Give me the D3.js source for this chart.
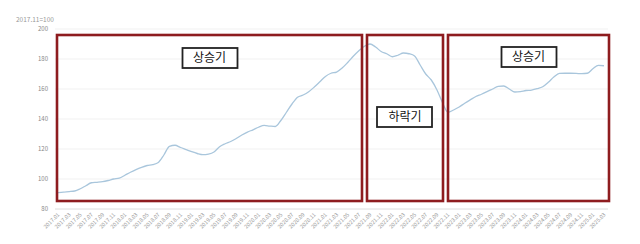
<!DOCTYPE html>
<html>
<head>
<meta charset="utf-8">
<script src="https://cdn.jsdelivr.net/npm/d3@7"></script>
<style>
	body { margin: 0; background: #fff; }
	svg { display: block; font-family: "Noto Sans CJK KR", "Noto Sans", sans-serif; }
</style>
</head>
<body>
<svg id="chart" width="640" height="244"></svg>
<script>
// monthly index, 2017.01 .. 2025.03 (2017.11 = 100)
let startYear = 2017;
let values = [
	90.9, 91.3, 91.6, 92, 93.5, 95.5, 97.5, 97.8, 98.2, 99, 100, 100.6,
	102.5, 104.5, 106.3, 107.8, 109, 109.6, 111, 116, 121.8, 122.5, 121, 119.6,
	118.2, 117, 116.2, 116.6, 118, 121.5, 123.5, 125, 127, 129.3, 131.3, 132.8,
	134.5, 135.7, 135.3, 135, 139, 144.5, 150, 154.5, 156, 158.2, 161.3, 164.8,
	168.4, 170.5, 171.3, 174, 177.7, 181.8, 185.5, 188.5, 190, 188, 185, 183.5,
	181.5, 182.5, 184, 183.5, 182, 176, 170, 166, 159.5, 151, 144.5, 146,
	148, 150.5, 152.8, 155, 156.5, 158.2, 160, 161.8, 162, 160, 158, 158.3,
	159, 159.3, 160.2, 161.5, 164.5, 168, 170.4, 170.5, 170.5, 170.4, 170.2, 170.5,
	173.5, 175.8, 175.5
];
let months = values.map((v, i) => {
	let y = startYear + Math.floor(i / 12);
	let m = (i % 12) + 1;
	return y + "." + (m < 10 ? "0" + m : m);
});
let yTicks = [80, 100, 120, 140, 160, 180, 200];
let unitLabel = "2017.11=100";

// phase labels, boxes drawn round these stretches
let phaseNames = ["상승기", "하락기", "상승기"];

let svg = d3.select("#chart");

let x = d3.scalePoint()
	.domain(months)
	.range([58, 604]);

let y = d3.scaleLinear()
	.domain([80, 200])
	.range([209, 29]);

// grid
svg.append("g")
	.selectAll("line")
	.data(yTicks)
	.enter()
	.append("line")
	.attr("x1", 55)
	.attr("x2", 608)
	.attr("y1", d => y(d))
	.attr("y2", d => y(d))
	.style("stroke", (d, i) => i == 0 ? "#dcdcdc" : "#f1f1f1")
	.style("stroke-width", 1);

// y labels
svg.append("g")
	.selectAll("text")
	.data(yTicks)
	.enter()
	.append("text")
	.attr("x", 48)
	.attr("y", d => y(d) + 2)
	.attr("text-anchor", "end")
	.attr("font-size", "6px")
	.attr("fill", "#888")
	.text(d => d);

svg.append("text")
	.attr("x", 16)
	.attr("y", 22)
	.attr("font-size", "6.5px")
	.attr("fill", "#999")
	.text(unitLabel);

// x labels every 2 months
let xLabels = months.filter((d, i) => i % 2 == 0);
svg.append("g")
	.selectAll("text")
	.data(xLabels)
	.enter()
	.append("text")
	.attr("text-anchor", "end")
	.attr("font-size", "5.5px")
	.attr("fill", "#999")
	.attr("transform", d => "translate(" + (x(d) + 2) + ",215) rotate(-45)")
	.text(d => d);

// line
let line = d3.line()
	.x((d, i) => x(months[i]))
	.y(d => y(d))
	.curve(d3.curveMonotoneX);

svg.append("path")
	.datum(values)
	.attr("d", line)
	.style("fill", "none")
	.style("stroke", "#a9c6dc")
	.style("stroke-width", 1.3);

// phase boxes
let boxX = [57, 367, 448];
let boxR = [362, 443, 609];
let phases = phaseNames.map((name, i) => ({
	name: name,
	x0: boxX[i],
	x1: boxR[i]
}));

svg.append("g")
	.selectAll("rect")
	.data(phases)
	.enter()
	.append("rect")
	.attr("x", d => d.x0)
	.attr("y", 35)
	.attr("width", d => d.x1 - d.x0)
	.attr("height", 166)
	.style("fill", "none")
	.style("stroke", "#8e1c1f")
	.style("stroke-width", 2.6);

let tagY = [48, 107, 47];
let tags = svg.append("g")
	.selectAll("g")
	.data(phases)
	.enter()
	.append("g")
	.attr("transform", (d, i) => "translate(" + ((d.x0 + d.x1) / 2) + "," + tagY[i] + ")");

tags.append("rect")
	.attr("x", (d, i) => i == 1 ? -28 : -27)
	.attr("y", 0)
	.attr("width", 55)
	.attr("height", 20)
	.style("fill", "#fff")
	.style("stroke", "#222")
	.style("stroke-width", 1.8);

tags.append("text")
	.attr("x", 0)
	.attr("y", 14)
	.attr("text-anchor", "middle")
	.attr("font-size", "12px")
	.attr("fill", "#111")
	.text(d => d.name);
</script>
</body>
</html>
